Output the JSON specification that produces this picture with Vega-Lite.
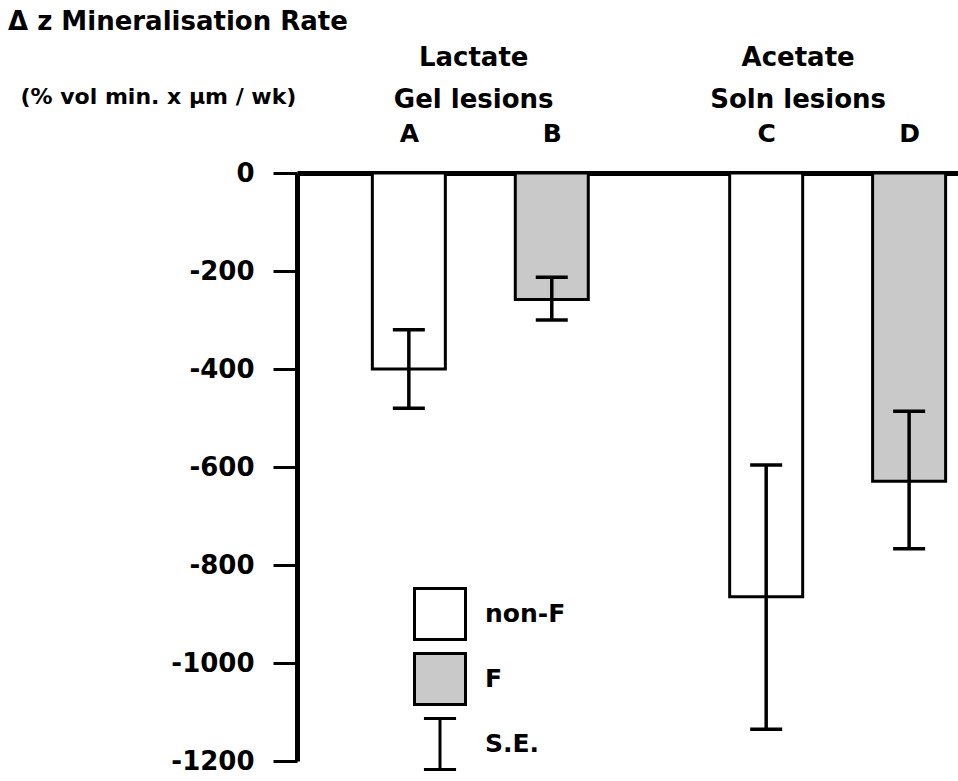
{
  "$schema": "https://vega.github.io/schema/vega-lite/v6.json",
  "width": 661,
  "height": 588,
  "autosize": {"type": "none"},
  "padding": {"left": 297, "top": 173, "right": 0, "bottom": 20},
  "background": "white",
  "config": {"view": {"stroke": null}, "font": "DejaVu Sans", "axis": {"grid": false}},
  "title": {
    "text": "Δ z Mineralisation Rate",
    "anchor": "start",
    "frame": "group",
    "dx": -289,
    "dy": -9,
    "offset": 0,
    "fontSize": 26,
    "font": "DejaVu Sans",
    "fontWeight": "bold",
    "color": "black"
  },
  "data": {
    "values": [
      {"bar": "A", "grp": "non-F", "pos": 1, "v": -400, "lo": -480, "hi": -320},
      {"bar": "B", "grp": "F", "pos": 2, "v": -258, "lo": -300, "hi": -213},
      {"bar": "C", "grp": "non-F", "pos": 3.5, "v": -865, "lo": -1135, "hi": -596},
      {"bar": "D", "grp": "F", "pos": 4.5, "v": -629, "lo": -767, "hi": -486}
    ]
  },
  "layer": [
    {
      "mark": {"type": "bar", "orient": "vertical", "size": 73, "stroke": "black", "strokeWidth": 3, "opacity": 1},
      "encoding": {
        "x": {
          "field": "pos", "type": "quantitative",
          "scale": {"domain": [0.2525, 4.807], "nice": false, "zero": false},
          "axis": {
            "orient": "top", "values": [1, 2, 3.5, 4.5],
            "labelExpr": "datum.value == 1 ? 'A' : datum.value == 2 ? 'B' : datum.value == 3.5 ? 'C' : 'D'",
            "domainWidth": 5, "domainColor": "black", "ticks": false,
            "labelFontSize": 25, "labelFontWeight": "bold", "labelColor": "black",
            "labelPadding": 27, "labelFlush": false, "labelOverlap": false, "title": null
          }
        },
        "y": {
          "field": "v", "type": "quantitative",
          "scale": {"domain": [-1200, 0], "nice": false},
          "axis": {
            "values": [0, -200, -400, -600, -800, -1000, -1200],
            "labelExpr": "'' + datum.value",
            "domainWidth": 5, "domainColor": "black",
            "tickColor": "black", "tickWidth": 3, "tickSize": 24,
            "labelFontSize": 26, "labelFontWeight": "bold", "labelColor": "black", "labelPadding": 19,
            "title": "(% vol min. x µm / wk)", "titleAngle": 0, "titleX": -277, "titleY": -70,
            "titleAlign": "left", "titleBaseline": "alphabetic",
            "titleFontSize": 22, "titleFontWeight": "bold", "titleColor": "black"
          }
        },
        "fill": {
          "field": "grp", "type": "nominal",
          "scale": {"domain": ["non-F", "F"], "range": ["white", "#c9c9c9"]},
          "legend": {
            "orient": "none", "legendX": 116, "legendY": 414, "title": null, "padding": 0,
            "symbolType": "square",
            "symbolSize": 2601, "symbolStrokeWidth": 3, "symbolStrokeColor": "black",
            "labelFontSize": 25, "labelFontWeight": "bold", "labelColor": "black", "labelFont": "DejaVu Sans",
            "labelOffset": 18, "rowPadding": 1
          }
        }
      }
    },
    {
      "mark": {"type": "rule", "strokeWidth": 3.5},
      "encoding": {
        "x": {
          "field": "pos", "type": "quantitative",
          "axis": {
            "orient": "top", "values": [1.45, 3.72],
            "labelExpr": "datum.value < 2 ? ['Lactate', 'Gel lesions'] : ['Acetate', 'Soln lesions']",
            "domain": false, "ticks": false,
            "labelFontSize": 26, "labelFontWeight": "bold", "labelColor": "black",
            "labelPadding": 103, "labelLineHeight": 42, "labelFlush": false, "labelOverlap": false, "title": null
          }
        },
        "y": {"field": "lo", "type": "quantitative", "title": "(% vol min. x µm / wk)"},
        "y2": {"field": "hi"},
        "stroke": {
          "datum": "S.E.",
          "scale": {"domain": ["S.E."], "range": ["black"]},
          "legend": {
            "orient": "none", "legendX": 116, "legendY": 544, "title": null, "padding": 0,
            "symbolType": "M-0.63,-1H0.63M0,-1V1M-0.63,1H0.63",
            "symbolSize": 2601, "symbolStrokeWidth": 3, "symbolStrokeColor": "black", "symbolFillColor": "transparent",
            "labelFontSize": 25, "labelFontWeight": "bold", "labelColor": "black", "labelFont": "DejaVu Sans",
            "labelOffset": 18
          }
        }
      }
    },
    {
      "mark": {"type": "tick", "orient": "horizontal", "size": 32, "thickness": 3.5, "color": "black", "opacity": 1},
      "encoding": {
        "x": {"field": "pos", "type": "quantitative", "axis": null},
        "y": {"field": "lo", "type": "quantitative", "title": "(% vol min. x µm / wk)"}
      }
    },
    {
      "mark": {"type": "tick", "orient": "horizontal", "size": 32, "thickness": 3.5, "color": "black", "opacity": 1},
      "encoding": {
        "x": {"field": "pos", "type": "quantitative", "axis": null},
        "y": {"field": "hi", "type": "quantitative", "title": "(% vol min. x µm / wk)"}
      }
    }
  ],
  "resolve": {"axis": {"x": "independent"}}
}
